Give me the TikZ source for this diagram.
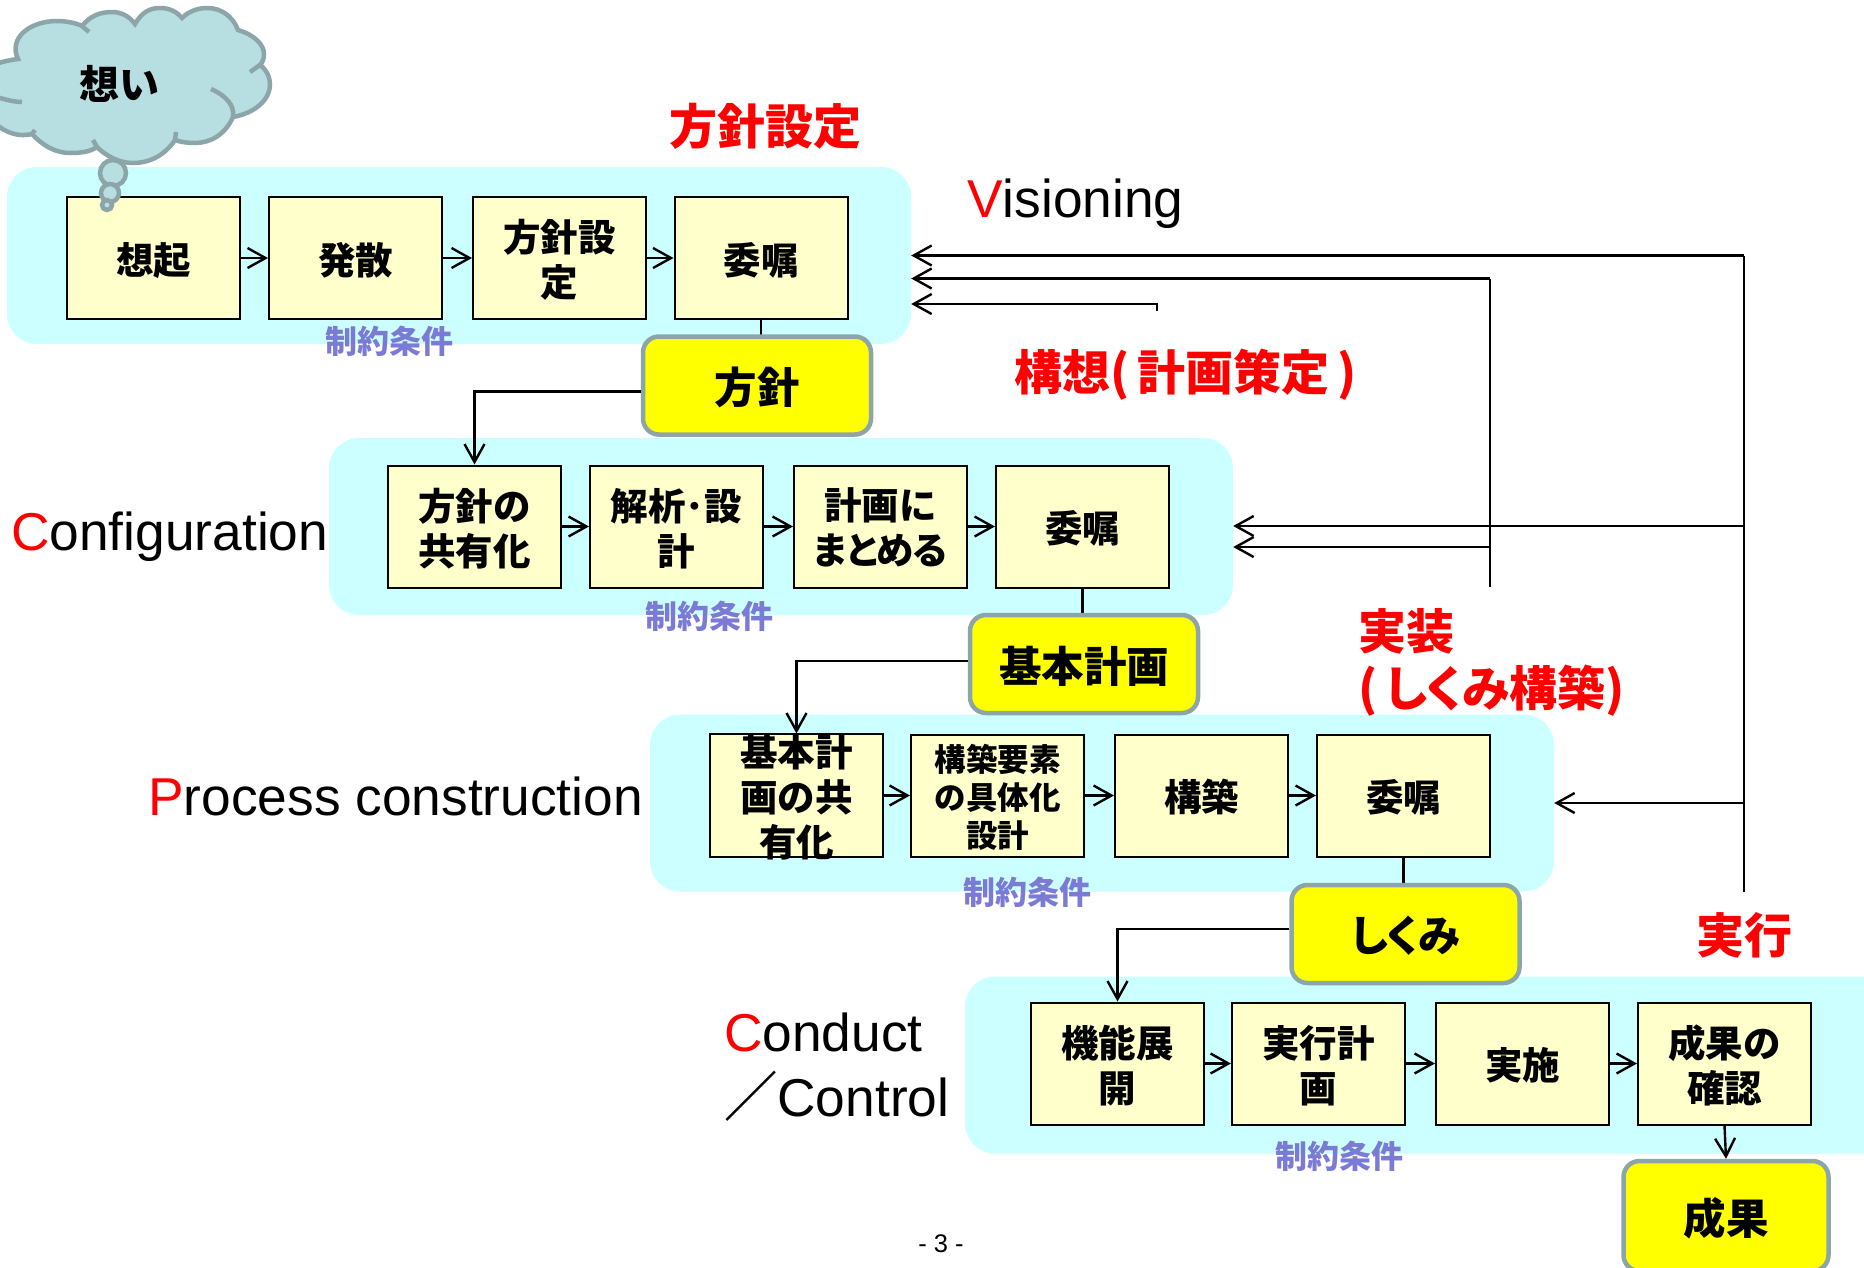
\documentclass[tikz,border=0pt]{standalone}
\usepackage{fontspec}
\usepackage{xcolor}
\usetikzlibrary{arrows.meta}
\setmainfont{Liberation Sans}
\newfontfamily\jpfont{Noto Sans CJK JP Black}
\newfontfamily\jpkana{Noto Sans CJK JP Black}[RawFeature=+palt, LetterSpace=-3]
\newfontfamily\jpslash{Noto Sans CJK JP Bold}
\definecolor{panelcyan}{HTML}{CCFFFF}
\definecolor{boxcream}{HTML}{FFFFCC}
\definecolor{cloudfill}{HTML}{B7DEE0}
\definecolor{cloudline}{HTML}{8CA5A8}
\definecolor{notecolor}{HTML}{7B7BD6}
\definecolor{resultyellow}{RGB}{255,255,0}
\definecolor{headred}{RGB}{255,0,0}
\tikzset{
  panelbox/.style={fill=panelcyan, rounded corners=30pt, inner sep=0pt, minimum width=904pt, minimum height=177pt},
  stepbox/.style={draw=black, fill=boxcream, line width=2pt, inner sep=0pt, minimum width=173pt, minimum height=122pt, align=center, text depth=-5pt, font=\jpfont\fontsize{37.5}{45}\selectfont},
  resultbox/.style={draw=cloudline, fill=resultyellow, line width=4.5pt, rounded corners=16pt, inner sep=0pt, minimum width=228pt, minimum height=98pt, text depth=-6pt, font=\jpfont\fontsize{42.5}{48}\selectfont},
  notelabel/.style={text=notecolor, font=\jpfont\fontsize{32}{36}\selectfont},
  headlabel/.style={text=headred, align=left, font=\jpfont\fontsize{48}{57}\selectfont},
  latinlabel/.style={align=left, inner sep=0pt, font=\fontsize{53.3}{65}\selectfont},
  flow/.style={-{Straight Barb[length=18pt,width=20pt]}, line width=2.4pt},
  cloudpart/.style={draw=cloudline, line width=4.5pt}
}
\begin{document}
\begin{tikzpicture}[x=1pt, y=-1pt]
        \clip (0,0) rectangle (1864,1267);

        \node[panelbox] (vision) at (459,255.5) {};
        \node[panelbox] (config) at (781,526.5) {};
        \node[panelbox] (process) at (1102,803) {};
        \node[panelbox, minimum width=944pt] (conduct) at (1437,1065) {};

        \node[stepbox] (v1) at (153.5,258) {想起};
        \node[stepbox] (v2) at (355.5,258) {発散};
        \node[stepbox] (v3) at (559.5,258) {方針設\\定};
        \node[stepbox] (v4) at (761,258) {委嘱};

        \node[stepbox] (c1) at (474.5,526.5) {方針の\\共有化};
        \node[stepbox] (c2) at (676.5,526.5) {解析･設\\計};
        \node[stepbox] (c3) at (880.5,526.5) {計画に\\{\jpkana まとめる}};
        \node[stepbox] (c4) at (1082.5,526.5) {委嘱};

        \node[stepbox] (p1) at (796.5,795.5) {基本計\\画の共\\有化};
        \node[stepbox, font=\jpfont\fontsize{31.5}{38}\selectfont] (p2) at (997.5,795.5) {構築要素\\の具体化\\設計};
        \node[stepbox] (p3) at (1201.5,795.5) {構築};
        \node[stepbox] (p4) at (1403.5,795.5) {委嘱};

        \node[stepbox] (d1) at (1117.5,1063.5) {機能展\\開};
        \node[stepbox] (d2) at (1318.5,1063.5) {実行計\\画};
        \node[stepbox] (d3) at (1522.5,1063.5) {実施};
        \node[stepbox] (d4) at (1724.5,1063.5) {成果の\\確認};

        \coordinate (fbfar) at (1744,892);
        \coordinate (fbnear) at (1490,587);
        \coordinate (fbstub) at (1157,311);
        \coordinate (fartop) at (1744,255.5);
        \coordinate (nearTop) at (1490,278.5);
        \coordinate (stubTop) at (1157,304);
        \coordinate (farmid) at (1744,526);
        \coordinate (nearmid) at (1490,547);
        \coordinate (farlow) at (1744,803);

        \draw[flow] (v1) -- (v2);
        \draw[flow] (v2) -- (v3);
        \draw[flow] (v3) -- (v4);
        \draw[flow] (c1) -- (c2);
        \draw[flow] (c2) -- (c3);
        \draw[flow] (c3) -- (c4);
        \draw[flow] (p1) -- (p2);
        \draw[flow] (p2) -- (p3);
        \draw[flow] (p3) -- (p4);
        \draw[flow] (d1) -- (d2);
        \draw[flow] (d2) -- (d3);
        \draw[flow] (d3) -- (d4);

        \draw[line width=2.4pt] (v4.south) -- ++(0,20);
        \draw[line width=2.4pt] (c4.south) -- ++(0,30);
        \draw[line width=2.4pt] (p4.south) -- ++(0,30);

        \draw[line width=2.6pt] (fbfar) -- (fartop);
        \draw[line width=2.6pt] (fbnear) -- (nearTop);
        \draw[flow] (fartop) -- (vision.east |- fartop);
        \draw[flow] (nearTop) -- (vision.east |- nearTop);
        \draw[flow] (fbstub) -- (stubTop) -- (vision.east |- stubTop);
        \draw[flow] (farmid) -- (config.east |- farmid);
        \draw[flow] (nearmid) -- (config.east |- nearmid);
        \draw[flow] (farlow) -- (process.east |- farlow);

        \node[resultbox] (policy) at (757,385.5) {方針};
        \node[resultbox] (plan) at (1084,664) {基本計画};
        \node[resultbox] (scheme) at (1405.5,934) {\jpkana しくみ};
        \node[resultbox, minimum width=205pt, minimum height=110pt, text depth=-4pt] (outcome) at (1726,1216) {成果};

        \draw[flow] ([yshift=-6pt]policy.west) -| (c1.north);
        \draw[flow] ([yshift=3pt]plan.west) -| (p1.north);
        \draw[flow] ([yshift=5pt]scheme.west) -| (d1.north);
        \draw[flow] (d4.south) -- (outcome.north);

        \path[cloudpart, fill=cloudfill] (-10,66) .. controls (0,62) and (10,60) .. (18,59)
            .. controls (8,38) and (30,21) .. (57,21) .. controls (66,21) and (76,23) .. (82,26)
            .. controls (90,16) and (100,12) .. (112,12) .. controls (122,12) and (130,17) .. (135,24)
            .. controls (142,12) and (150,8) .. (160,8) .. controls (170,8) and (177,12) .. (182,18)
            .. controls (190,10) and (200,8) .. (207,8) .. controls (222,8) and (233,17) .. (238,30)
            .. controls (255,35) and (264,45) .. (264,54) .. controls (264,58) and (263,62) .. (260,65)
            .. controls (267,70) and (270,78) .. (270,84) .. controls (270,100) and (255,113) .. (233,117)
            .. controls (225,135) and (210,143) .. (195,143) .. controls (188,143) and (180,142) .. (175,140)
            .. controls (165,155) and (150,163) .. (133,163) .. controls (118,163) and (105,155) .. (97,147)
            .. controls (90,152) and (80,153) .. (70,153) .. controls (55,153) and (42,145) .. (32,134)
            .. controls (15,138) and (0,130) .. (-10,118) -- cycle;
        \draw[cloudpart] (82,26) -- (89,32);
        \draw[cloudpart] (260,65) -- (250,72);
        \draw[cloudpart] (233,117) .. controls (235,105) and (225,95) .. (211,89);
        \draw[cloudpart] (175,140) -- (176,132);
        \draw[cloudpart] (97,147) -- (93,140);
        \draw[cloudpart] (32,134) -- (35,130);
        \draw[cloudpart] (22,102) .. controls (12,102) and (0,98) .. (-10,95);
        \draw[cloudpart, fill=cloudfill] (113,173) circle (13);
        \draw[cloudpart, fill=cloudfill] (110,193) circle (9);
        \draw[cloudpart, fill=cloudfill] (107,205) circle (5);
        \node[font=\jpfont\fontsize{40}{46}\selectfont] (wish) at (119,84) {想い};

        \node[notelabel] (note1) at (389,341) {制約条件};
        \node[notelabel] (note2) at (709,616) {制約条件};
        \node[notelabel] (note3) at (1027,892) {制約条件};
        \node[notelabel] (note4) at (1339,1156) {制約条件};

        \node[headlabel] (head1) at (765,126) {方針設定};
        \node[headlabel] (head2) at (1186,375) {構想(\,計画策定\,)};
        \node[headlabel, anchor=north west, inner sep=0pt] (head3) at (1358,608) {実装\\{\jpkana (\,しくみ}構築{\jpkana )}};
        \node[headlabel] (head4) at (1744,935) {実行};

        \node[latinlabel, anchor=west] (visioning) at (967,204) {\textcolor{headred}{V}isioning};
        \node[latinlabel, anchor=west] (configuration) at (11,537) {\textcolor{headred}{C}onfiguration};
        \node[latinlabel, anchor=west] (construction) at (148,796) {\textcolor{headred}{P}rocess construction};
        \node[latinlabel, anchor=west] (conductlabel) at (724,1067) {\textcolor{headred}{C}onduct\\{\jpslash ／}Control};

        \node[font=\fontsize{25.5}{30}\selectfont] (pagenum) at (941,1244) {- 3 -};
    \end{tikzpicture}
\end{document}
